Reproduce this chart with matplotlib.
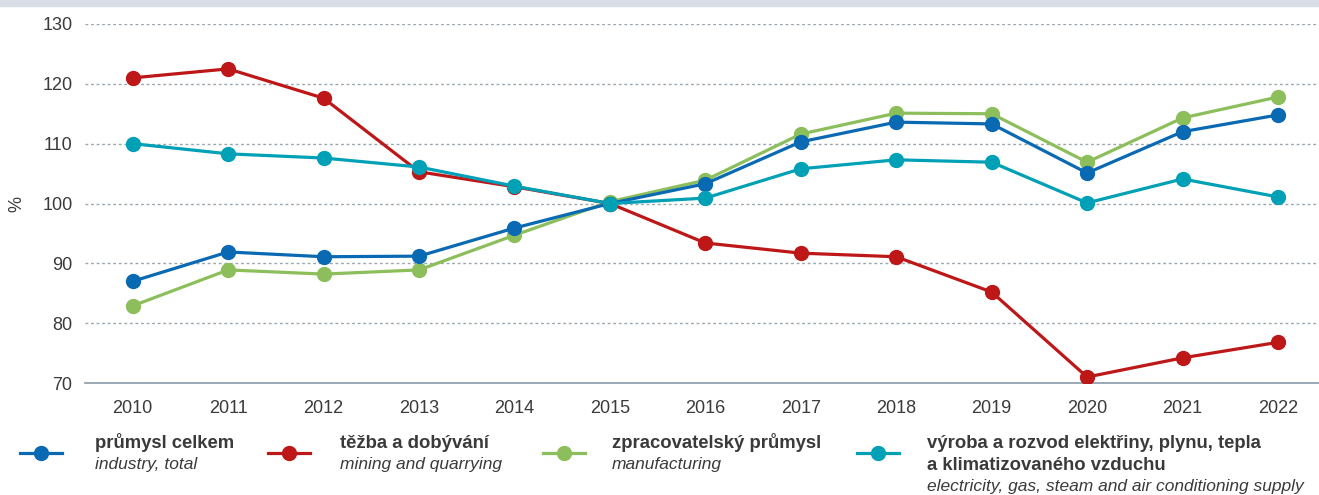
import matplotlib.pyplot as plt
from matplotlib.lines import Line2D
from matplotlib.patches import Rectangle

plt.rcParams['font.family'] = ['Liberation Sans', 'DejaVu Sans']

years = list(range(2010, 2023))
industry_total = [87.0, 91.9, 91.1, 91.2, 95.9, 100.0, 103.3, 110.3, 113.6, 113.3, 105.1, 112.0, 114.8]
mining = [121.0, 122.5, 117.6, 105.3, 102.8, 100.0, 93.4, 91.7, 91.1, 85.2, 71.0, 74.2, 76.8]
manufacturing = [82.9, 88.9, 88.2, 88.9, 94.7, 100.3, 103.9, 111.6, 115.1, 115.0, 106.9, 114.3, 117.8]
electricity = [110.0, 108.3, 107.6, 106.1, 102.9, 100.0, 100.9, 105.8, 107.3, 106.9, 100.1, 104.1, 101.1]

c_blue = '#0a69b3'
c_red = '#bd1718'
c_green = '#8cbf5b'
c_teal = '#00a0b6'
txt = '#3a3a3a'

W, H = 1319, 495
fig = plt.figure(figsize=(W / 100, H / 100), dpi=100)
ax = fig.add_axes([85 / W, 1 - 383 / H, 1234 / W, 359 / H])

# thin grey band on top
fig.patches.append(Rectangle((0, 1 - 6 / H), 1, 6 / H, transform=fig.transFigure,
                             color='#d9dee6', zorder=0))

series = [
    (manufacturing, c_green),
    (industry_total, c_blue),
    (mining, c_red),
    (electricity, c_teal),
]
for vals, col in series:
    ax.plot(years, vals, color=col, lw=2.3, marker='o', ms=10, zorder=3)

ax.set_ylim(70, 130)
ax.set_xlim(2009.5, 2022.43)
ax.set_yticks(range(70, 131, 10))
ax.set_xticks(years)
ax.yaxis.grid(True, linestyle=(0, (2, 2)), color='#9aa5ae', lw=1)
ax.set_axisbelow(True)
for s in ['top', 'right', 'left']:
    ax.spines[s].set_visible(False)
ax.spines['bottom'].set_color('#8a9baa')
ax.spines['bottom'].set_linewidth(1.2)
ax.tick_params(axis='both', length=0, labelsize=13, colors=txt)
ax.tick_params(axis='y', pad=9)
ax.tick_params(axis='x', pad=12)
ax.set_ylabel('%', fontsize=13, color=txt)
ax.yaxis.set_label_coords((25 - 85) / 1234, 0.5)

# legend drawn manually
legend_items = [
    (c_blue, 20, 95, ['průmysl celkem'], 'industry, total'),
    (c_red, 268, 340, ['těžba a dobývání'], 'mining and quarrying'),
    (c_green, 543, 612, ['zpracovatelský průmysl'], 'manufacturing'),
    (c_teal, 857, 927, ['výroba a rozvod elektřiny, plynu, tepla',
                        'a klimatizovaného vzduchu'],
     'electricity, gas, steam and air conditioning supply'),
]
for col, lx, tx, bold_lines, italic in legend_items:
    y = 1 - 453 / H
    fig.add_artist(Line2D([lx / W, (lx + 42) / W], [y, y], transform=fig.transFigure,
                          color=col, lw=2.3))
    fig.add_artist(Line2D([(lx + 21) / W], [y], transform=fig.transFigure,
                          color=col, marker='o', ms=10, lw=0))
    ty = 443
    for line in bold_lines:
        fig.text(tx / W, 1 - ty / H, line, fontsize=13.3, fontweight='bold',
                 color=txt, va='center', ha='left')
        ty += 22
    fig.text(tx / W, 1 - ty / H, italic, fontsize=12.5, fontstyle='italic',
             color=txt, va='center', ha='left')

fig.savefig('out.png', dpi=100)
